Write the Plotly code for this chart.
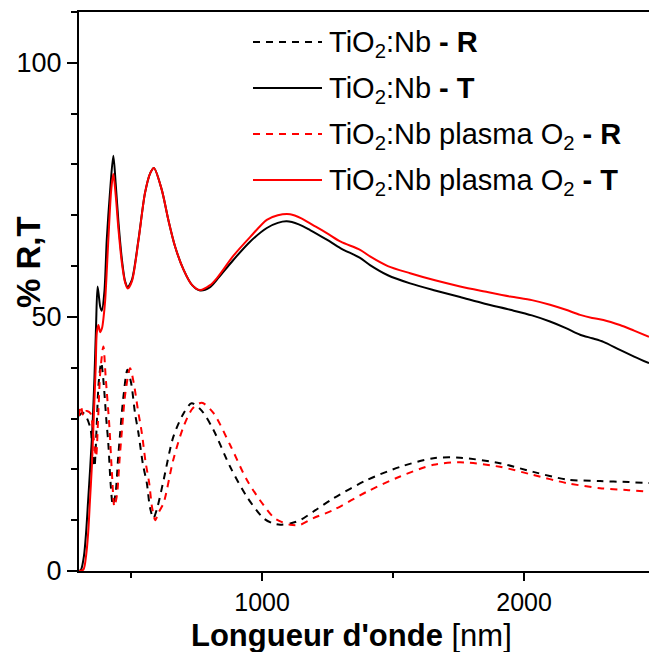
import plotly.graph_objects as go

# ---------------- data ----------------
wl_T_ref = [301, 309, 320, 328, 336, 344, 352, 360, 366, 372, 382, 388, 398, 407, 420, 432,
            441, 452, 465, 477, 487, 503, 528, 553, 573, 587, 617, 642, 668, 700, 732, 763,
            800, 827, 890, 954, 1018, 1060, 1094, 1140, 1183, 1247, 1300, 1374, 1412, 1480,
            1565, 1660, 1756, 1850, 1947, 2030, 2099, 2160, 2214, 2260, 2303, 2366, 2420, 2477]
T_ref = [0, 0.3, 3, 7.5, 14, 20.5, 28, 38, 48, 56, 52, 51.2, 55, 65.2, 75, 81.7,
         76.3, 68.4, 61.2, 57, 55.9, 57.3, 65.2, 74.4, 78.3, 79.3, 75, 69.1, 63.8, 59.3, 56.3, 55.2,
         55.8, 57.3, 61.2, 64.8, 67.5, 68.5, 68.8, 68.2, 67.1, 65.2, 63.5, 61.6, 60.2, 58.2,
         56.6, 55.2, 53.9, 52.6, 51.4, 50.3, 49.1, 47.8, 46.5, 45.8, 45.1, 43.5, 42.2, 40.9]

wl_T_pl = [301, 318, 328, 336, 343, 350, 355, 360, 365, 369, 375, 382, 389, 395, 401, 413,
           424, 432, 441, 452, 465, 477, 487, 503, 528, 553, 573, 587, 617, 642, 668, 700,
           732, 763, 800, 827, 890, 954, 1018, 1060, 1107, 1150, 1183, 1247, 1300, 1374, 1412,
           1480, 1565, 1660, 1756, 1850, 1947, 2030, 2099, 2160, 2214, 2260, 2303, 2366, 2420, 2477]
T_pl = [0, 0.3, 3, 7.5, 14, 20.5, 27, 33.7, 40.5, 46.9, 48.4, 47, 47.8, 50, 53.3, 65.2,
        75, 78.1, 74, 67, 60.5, 56.8, 55.6, 57, 65, 74.4, 78.3, 79.3, 75, 69.1, 63.8, 59.3,
        56.3, 55.3, 56.2, 57.6, 62.0, 65.7, 69.1, 70.0, 70.2, 69.4, 68.4, 66.5, 64.8, 63.2, 61.9,
        60.0, 58.6, 57.2, 56.0, 55.0, 54.0, 53.3, 52.4, 51.4, 50.4, 49.8, 49.4, 48.4, 47.3, 46.1]

wl_R_ref = [301, 315, 330, 345, 352, 360, 368, 376, 386, 395, 405, 413, 422, 430, 440, 450,
            458, 470, 486, 500, 515, 528, 545, 560, 572, 585, 600, 624, 661, 700, 731, 770,
            814, 878, 942, 1005, 1040, 1069, 1110, 1145, 1196, 1272, 1400, 1527, 1654, 1756,
            1908, 2035, 2163, 2290, 2400, 2477]
R_ref = [30.5, 31.2, 30.2, 28, 24, 20.5, 28, 37, 41, 37, 30, 25, 17, 13, 15, 22,
         27.1, 34, 39.6, 37, 31, 27.1, 21, 17.3, 12.5, 10.4, 12.5, 17.9, 26.4, 31.0, 33.0, 31.5,
         27.8, 20.5, 14.6, 10.4, 9.4, 9.1, 9.4, 10.0, 11.7, 14.3, 17.9, 20.5, 22.2, 22.3,
         21.2, 19.5, 18.0, 17.7, 17.5, 17.3]

wl_R_pl = [301, 308, 318, 330, 345, 355, 366, 374, 382, 394, 403, 417, 427, 436, 446, 456,
           464, 478, 496, 510, 525, 541, 555, 569, 580, 592, 605, 624, 661, 700, 735, 770,
           814, 878, 942, 1005, 1050, 1107, 1145, 1196, 1272, 1400, 1527, 1654, 1756,
           1908, 2035, 2163, 2290, 2400, 2477]
R_pl = [30.5, 32.5, 30.5, 31.5, 31, 27, 22.5, 30, 39, 44.2, 38, 28.4, 19, 12.7, 15, 22,
        27.1, 35, 39.9, 37, 32, 27.1, 21.5, 17.3, 12.5, 10.0, 11.5, 13.4, 21.9, 28.4, 32, 33.1,
        31.1, 24.8, 17.9, 13.0, 10.3, 9.1, 9.1, 10.4, 12.0, 15.6, 18.6, 20.9, 21.4,
        20.5, 18.9, 17.3, 16.3, 15.9, 15.6]

series_names = ["TiO<sub>2</sub>:Nb <b>- R</b>",
                "TiO<sub>2</sub>:Nb <b>- T</b>",
                "TiO<sub>2</sub>:Nb plasma O<sub>2</sub> <b>- R</b>",
                "TiO<sub>2</sub>:Nb plasma O<sub>2</sub> <b>- T</b>"]
x_title = "<b>Longueur d'onde</b> [nm]"
y_title = "<b>% R,T</b>"

# ---------------- styling ----------------
W, H = 649, 652
# plot area in page pixels: x 79..649, y 12..571
PL, PR, PT, PB = 79, 649, 12, 571
L, R_, T_, B = PL, W - PR, PT, H - PB
FONT = "Liberation Sans, Arial, sans-serif"
DASH = "7px,6px"
series = [
    (wl_R_ref, R_ref, "black", DASH),
    (wl_T_ref, T_ref, "black", "solid"),
    (wl_R_pl, R_pl, "red", DASH),
    (wl_T_pl, T_pl, "red", "solid"),
]

fig = go.Figure()
for (xs, ys, col, dash), name in zip(series, series_names):
    fig.add_trace(go.Scatter(x=xs, y=ys, mode="lines", name=name, showlegend=False,
                             line=dict(color=col, width=2, dash=dash,
                                       shape="spline", smoothing=0.8)))

def px2paper(px, py):
    return (px - PL) / (PR - PL), (PB - py) / (PB - PT)

# custom legend (long line samples, like the reference)
legend_rows = [42, 88, 134, 180]
for (xs, ys, col, dash), name, ry in zip(series, series_names, legend_rows):
    x0, y0 = px2paper(253, ry)
    x1, _ = px2paper(322, ry)
    fig.add_shape(type="line", xref="paper", yref="paper", x0=x0, x1=x1, y0=y0, y1=y0,
                  line=dict(color=col, width=2, dash=dash))
    tx, ty = px2paper(327, ry + 2)
    fig.add_annotation(xref="paper", yref="paper", x=tx, y=ty, text=name,
                       showarrow=False, xanchor="left", yanchor="middle",
                       font=dict(size=29, color="black", family=FONT))

ax, ay = px2paper(351, 635)
fig.add_annotation(xref="paper", yref="paper", x=ax, y=ay, text=x_title, showarrow=False,
                   xanchor="center", yanchor="middle", font=dict(size=31, color="black", family=FONT))
bx, by = px2paper(28, 262)
fig.add_annotation(xref="paper", yref="paper", x=bx, y=by, text=y_title, showarrow=False,
                   textangle=-90, xanchor="center", yanchor="middle",
                   font=dict(size=33, color="black", family=FONT))

fig.update_layout(
    width=W, height=H,
    margin=dict(l=L, r=R_, t=T_, b=B, pad=0),
    paper_bgcolor="white", plot_bgcolor="white",
    font=dict(family=FONT, color="black"),
    showlegend=False,
)
fig.update_xaxes(range=[301, 2477], showline=True, linecolor="black", linewidth=2, mirror=True,
                 showgrid=False, zeroline=False, tick0=0, dtick=1000, ticks="outside",
                 ticklen=8, tickwidth=2, tickcolor="black",
                 tickfont=dict(size=25, family=FONT, color="black"),
                 minor=dict(dtick=500, tick0=0, ticks="outside", ticklen=5, tickwidth=2, tickcolor="black"))
fig.update_yaxes(range=[0, 110], showline=True, linecolor="black", linewidth=2, mirror=False,
                 showgrid=False, zeroline=False, tick0=0, dtick=50, ticks="outside",
                 ticklen=10, tickwidth=2, tickcolor="black",
                 tickfont=dict(size=27, family=FONT, color="black"),
                 minor=dict(dtick=10, tick0=0, ticks="outside", ticklen=6, tickwidth=2, tickcolor="black"))

fig.write_html("out.html", config={"displayModeBar": False},
               post_script="document.body.style.margin='0px';document.body.style.overflow='hidden';")
